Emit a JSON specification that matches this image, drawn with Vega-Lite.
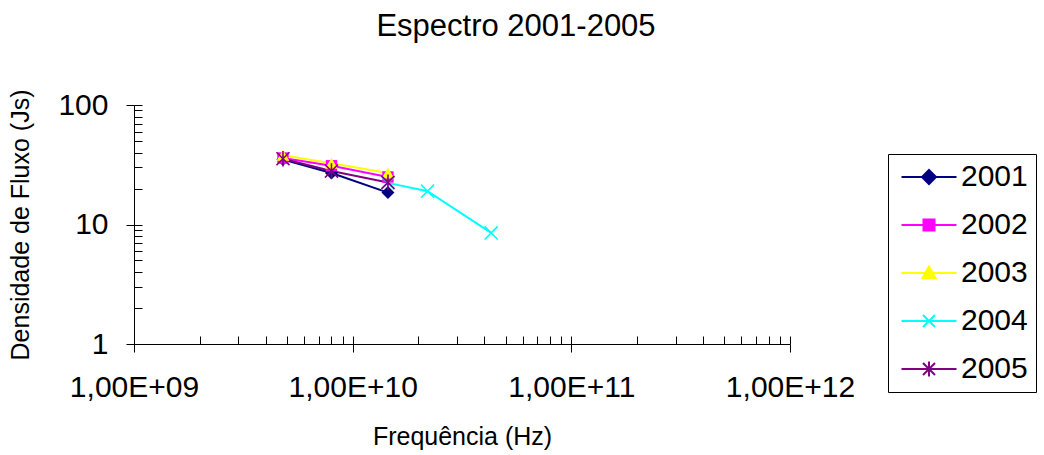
{
  "$schema": "https://vega.github.io/schema/vega-lite/v6.json",
  "width": 656,
  "height": 239,
  "autosize": "none",
  "padding": {"left": 134, "top": 105, "right": 254, "bottom": 111},
  "background": "white",
  "title": {"text": "Espectro 2001-2005", "font": "Liberation Sans", "fontSize": 31, "fontWeight": "normal", "color": "black", "anchor": "middle", "dx": 54, "offset": 46},
  "config": {
    "view": {"stroke": null},
    "font": "Liberation Sans",
    "axis": {"grid": false, "domainColor": "black", "tickColor": "black", "labelColor": "black", "titleColor": "black", "labelFont": "Liberation Sans", "titleFont": "Liberation Sans", "titleFontWeight": "normal", "labelFlush": false, "labelOverlap": false}
  },
  "data": {"values": [
    {"year": "2001", "freq": 4.8e9, "flux": 35},
    {"year": "2001", "freq": 8.0e9, "flux": 27},
    {"year": "2001", "freq": 1.45e10, "flux": 18.5},
    {"year": "2002", "freq": 4.8e9, "flux": 36},
    {"year": "2002", "freq": 8.0e9, "flux": 31},
    {"year": "2002", "freq": 1.45e10, "flux": 25},
    {"year": "2003", "freq": 4.8e9, "flux": 38},
    {"year": "2003", "freq": 8.0e9, "flux": 32.5},
    {"year": "2003", "freq": 1.45e10, "flux": 27},
    {"year": "2004", "freq": 1.45e10, "flux": 22.3},
    {"year": "2004", "freq": 2.2e10, "flux": 19},
    {"year": "2004", "freq": 4.3e10, "flux": 8.5},
    {"year": "2005", "freq": 4.8e9, "flux": 35.5},
    {"year": "2005", "freq": 8.0e9, "flux": 28},
    {"year": "2005", "freq": 1.45e10, "flux": 22.5}
  ]},
  "resolve": {"axis": {"x": "independent", "y": "independent"}},
  "layer": [
    {
      "mark": {"type": "line", "strokeWidth": 2},
      "encoding": {
        "x": {"field": "freq", "type": "quantitative", "scale": {"type": "log", "domain": [1e9, 1e12], "nice": false},
          "axis": {"orient": "bottom", "values": [1e9, 1e10, 1e11, 1e12], "tickSize": 8, "labelPadding": 20, "labelFontSize": 30,
            "labelExpr": "'1,00E+' + (round(log(datum.value)/LN10) < 10 ? '0' : '') + round(log(datum.value)/LN10)",
            "title": "Frequência (Hz)", "titleFontSize": 25, "titlePadding": 22}},
        "y": {"field": "flux", "type": "quantitative", "scale": {"type": "log", "domain": [1, 100], "nice": false},
          "axis": {"orient": "left", "values": [1, 10, 100], "tickSize": 8, "labelPadding": 18, "labelFontSize": 30, "format": "d",
            "title": "Densidade de Fluxo (Js)", "titleFontSize": 25, "titlePadding": 24}},
        "color": {"field": "year", "type": "nominal",
          "scale": {"domain": ["2001", "2002", "2003", "2004", "2005"], "range": ["#000080", "#FF00FF", "#FFFF00", "#00FFFF", "#800080"]},
          "legend": {"orient": "none", "legendX": 754, "legendY": 49, "title": null, "strokeColor": "black", "padding": 8,
            "labelFont": "Liberation Sans", "labelFontSize": 30, "labelColor": "black", "symbolSize": 400, "symbolStrokeWidth": 2,
            "symbolOffset": 18, "labelOffset": 17, "rowPadding": 18,
            "encode": {"symbols": {"update": {
              "shape": {"signal": "datum.value == '2001' ? 'M-2.75,0L2.75,0M0,-0.7L0.7,0L0,0.7L-0.7,0Z' : datum.value == '2002' ? 'M-2.75,0L2.75,0M-0.55,-0.55L0.55,-0.55L0.55,0.55L-0.55,0.55Z' : datum.value == '2003' ? 'M-2.75,0L2.75,0M0,-0.65L0.65,0.5L-0.65,0.5Z' : datum.value == '2004' ? 'M-2.75,0L2.75,0M-0.6,-0.6L0.6,0.6M-0.6,0.6L0.6,-0.6' : 'M-2.75,0L2.75,0M-0.6,-0.6L0.6,0.6M-0.6,0.6L0.6,-0.6M0,-0.75L0,0.75'"},
              "fill": {"signal": "scale('color', datum.value)"},
              "stroke": {"signal": "scale('color', datum.value)"},
              "strokeWidth": {"value": 2}
            }}}}},
        "detail": {"field": "year"}
      }
    },
    {
      "mark": {"type": "point", "opacity": 0},
      "encoding": {
        "x": {"field": "freq", "type": "quantitative", "scale": {"type": "log", "domain": [1e9, 1e12], "nice": false},
          "axis": {"orient": "bottom", "values": [1e9, 2e9, 3e9, 4e9, 5e9, 6e9, 7e9, 8e9, 9e9, 1e10, 2e10, 3e10, 4e10, 5e10, 6e10, 7e10, 8e10, 9e10, 1e11, 2e11, 3e11, 4e11, 5e11, 6e11, 7e11, 8e11, 9e11, 1e12],
            "tickSize": -8, "labels": false, "domain": false, "title": null}},
        "y": {"field": "flux", "type": "quantitative", "scale": {"type": "log", "domain": [1, 100], "nice": false},
          "axis": {"orient": "left", "values": [1, 2, 3, 4, 5, 6, 7, 8, 9, 10, 20, 30, 40, 50, 60, 70, 80, 90, 100],
            "tickSize": -8, "labels": false, "domain": false, "title": null}}
      }
    },
    {
      "transform": [{"filter": "datum.year == '2001'"}],
      "mark": {"type": "point", "shape": "diamond", "filled": true, "size": 170, "color": "#000080", "opacity": 1},
      "encoding": {"x": {"field": "freq", "type": "quantitative", "axis": null}, "y": {"field": "flux", "type": "quantitative", "axis": null}}
    },
    {
      "transform": [{"filter": "datum.year == '2002'"}],
      "mark": {"type": "point", "shape": "square", "filled": true, "size": 130, "color": "#FF00FF", "opacity": 1},
      "encoding": {"x": {"field": "freq", "type": "quantitative", "axis": null}, "y": {"field": "flux", "type": "quantitative", "axis": null}}
    },
    {
      "transform": [{"filter": "datum.year == '2003'"}],
      "mark": {"type": "point", "shape": "triangle-up", "filled": true, "size": 160, "color": "#FFFF00", "opacity": 1},
      "encoding": {"x": {"field": "freq", "type": "quantitative", "axis": null}, "y": {"field": "flux", "type": "quantitative", "axis": null}}
    },
    {
      "transform": [{"filter": "datum.year == '2004'"}],
      "mark": {"type": "point", "shape": "M-1,-1L1,1M-1,1L1,-1", "filled": false, "size": 170, "color": "#00FFFF", "strokeWidth": 1.6, "opacity": 1},
      "encoding": {"x": {"field": "freq", "type": "quantitative", "axis": null}, "y": {"field": "flux", "type": "quantitative", "axis": null}}
    },
    {
      "transform": [{"filter": "datum.year == '2005'"}],
      "mark": {"type": "point", "shape": "M-1,-1L1,1M-1,1L1,-1M0,-1.2L0,1.2", "filled": false, "size": 170, "color": "#800080", "strokeWidth": 1.6, "opacity": 1},
      "encoding": {"x": {"field": "freq", "type": "quantitative", "axis": null}, "y": {"field": "flux", "type": "quantitative", "axis": null}}
    }
  ]
}
